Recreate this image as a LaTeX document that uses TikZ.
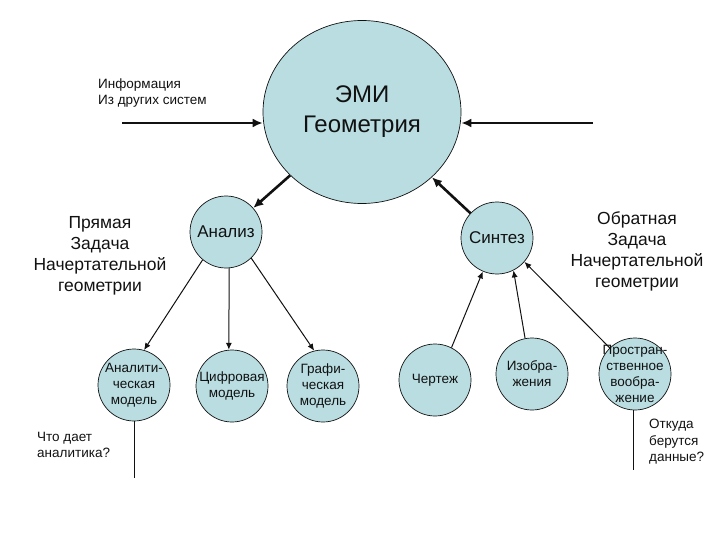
\documentclass[tikz,border=0pt]{standalone}
\usepackage{fontspec}
\setmainfont{Liberation Sans}
\usetikzlibrary{positioning,arrows.meta,shapes.geometric}
\definecolor{emifill}{HTML}{B9DDE1}
\definecolor{emiink}{HTML}{111111}

\begin{document}
\begin{tikzpicture}[x=1pt, y=-1pt, font=\fontsize{13.5}{16.5}\selectfont, color=emiink,
  disk/.style={circle, draw=emiink, line width=0.7pt, fill=emifill, minimum size=72pt, inner sep=0pt},
  ctext/.style={align=center, inner sep=0pt, font=\fontsize{13.5}{16}\selectfont},
  side/.style={align=center, inner sep=0pt, font=\fontsize{17.5}{21}\selectfont},
  note/.style={align=left, inner sep=0pt, anchor=west},
  bigflow/.style={-{Latex[length=10pt, width=9pt]}, line width=2.6pt},
  flow/.style={-{Latex[length=7pt, width=6pt]}, line width=1pt}]
\useasboundingbox (0,0) rectangle (720,540);
% ===== top: EMI =====
\node[ellipse, draw=emiink, line width=0.7pt, fill=emifill, minimum width=198pt, minimum height=183pt, align=center, inner sep=0pt, font=\fontsize{24}{30}\selectfont] (emi) at (362,112) {ЭМИ\\Геометрия};
\coordinate (inl) at (122,123);
\coordinate (inr) at (593,123);
\draw[bigflow] (inl) -- (emi.west |- inl);
\draw[bigflow] (inr) -- (emi.east |- inr);
\node[note] (info) at (98,93) {Информация\\Из других систем};
% ===== level 2 =====
\node[disk, label={[ctext, font=\fontsize{17}{20}\selectfont]center:Анализ}] (ana) at (226,232) {};
\node[disk, label={[ctext, font=\fontsize{17}{20}\selectfont]center:Синтез}] (sin) at (497,238) {};
\draw[bigflow] (emi) -- (ana);
\draw[bigflow] (sin) -- (emi);
\node[side] (pryam) at (100,256) {Прямая\\Задача\\Начертательной\\геометрии};
\node[side] (obr) at (637,251) {Обратная\\Задача\\Начертательной\\геометрии};
% ===== level 3: analysis =====
\node[disk, label={[ctext]center:Аналити-\\ческая\\модель}] (anm) at (134,385) {};
\node[disk, label={[ctext]center:Цифровая\\модель}] (cif) at (232,386) {};
\node[disk, label={[ctext]center:Графи-\\ческая\\модель}] (gra) at (323,386) {};
\draw[flow] (ana.230) -- (anm.74);
\draw[flow] (ana.275) -- (cif.95);
\draw[flow] (ana.314) -- (gra.104);
% ===== level 3: synthesis =====
\node[disk, label={[ctext]center:Чертеж}] (cher) at (435,380) {};
\node[disk, label={[ctext]center:Изобра-\\жения}] (izo) at (532,374) {};
\node[disk, label={[ctext]center:Простран-\\ственное\\вообра-\\жение}] (prost) at (635,374) {};
\draw[flow] (cher.63) -- (sin.247);
\draw[flow] (izo.101) -- (sin.297);
\draw[flow] (prost.134) -- (sin.319);
% ===== questions =====
\coordinate (q1) at (134,478);
\coordinate (q2) at (633,470);
\draw[line width=1pt] (anm.south) -- (q1);
\draw[line width=1pt] (prost.south -| q2) -- (q2);
\node[note] (anq) at (37,445) {Что дает\\аналитика?};
\node[note] (prq) at (649,442) {Откуда\\берутся\\данные?};
\end{tikzpicture}
\end{document}
